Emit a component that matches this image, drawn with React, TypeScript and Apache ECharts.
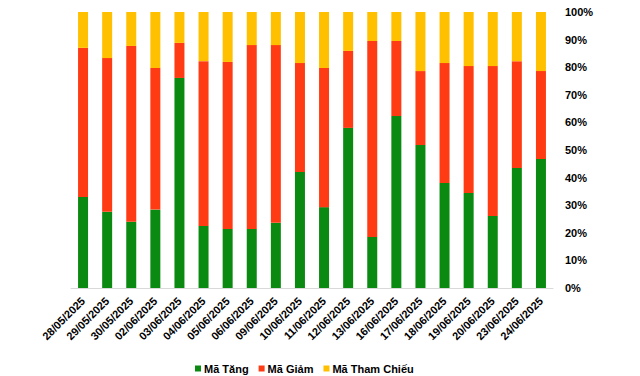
import React, { useEffect, useRef } from "react";
import * as echarts from "echarts";

const categories = [
  "28/05/2025", "29/05/2025", "30/05/2025", "02/06/2025", "03/06/2025",
  "04/06/2025", "05/06/2025", "06/06/2025", "09/06/2025", "10/06/2025",
  "11/06/2025", "12/06/2025", "13/06/2025", "16/06/2025", "17/06/2025",
  "18/06/2025", "19/06/2025", "20/06/2025", "23/06/2025", "24/06/2025",
];
const maTang = [33.0, 27.6, 24.0, 28.4, 76.1, 22.5, 21.4, 21.4, 23.6, 42.0, 29.3, 58.0, 18.5, 62.3, 51.8, 38.0, 34.4, 26.1, 43.5, 46.7];
const maGiam = [54.0, 55.7, 63.7, 51.3, 12.7, 59.7, 60.5, 66.6, 64.4, 39.5, 50.4, 27.9, 71.0, 27.2, 26.8, 43.5, 46.0, 54.3, 38.7, 31.9];
const maThamChieu = [13.0, 16.7, 12.3, 20.3, 11.2, 17.8, 18.1, 12.0, 12.0, 18.5, 20.3, 14.1, 10.5, 10.5, 21.4, 18.5, 19.6, 19.6, 17.8, 21.4];

const font = "Liberation Sans, Arial, sans-serif";

export default function App() {
  const ref = useRef<HTMLDivElement>(null);
  useEffect(() => {
    if (!ref.current) return;
    const chart = echarts.init(ref.current, null, { renderer: "svg" });
    const mk = (name: string, data: number[], color: string) => ({
      name,
      type: "bar",
      stack: "total",
      barWidth: 10,
      data,
      itemStyle: { color },
    });
    chart.setOption({
      animation: false,
      textStyle: { fontFamily: font },
      grid: { left: 71, right: 87, top: 12, bottom: 88, containLabel: false },
      legend: {
        left: 190,
        top: 358,
        itemWidth: 6,
        itemHeight: 6,
        itemGap: 10,
        icon: "rect",
        textStyle: { fontFamily: font, fontSize: 11, fontWeight: "bold", color: "#000", padding: [0, 0, 0, -2] },
        data: ["Mã Tăng", "Mã Giảm", "Mã Tham Chiếu"],
      },
      xAxis: {
        type: "category",
        data: categories,
        axisLine: { lineStyle: { color: "#d9d9d9", width: 1 } },
        axisTick: { show: false },
        axisLabel: {
          rotate: 45,
          margin: 11,
          interval: 0,
          fontFamily: font,
          fontSize: 11,
          fontWeight: "bold",
          color: "#000",
        },
      },
      yAxis: {
        type: "value",
        position: "right",
        min: 0,
        max: 100,
        interval: 10,
        splitLine: { show: false },
        axisLine: { show: false },
        axisTick: { show: false },
        axisLabel: {
          margin: 12,
          formatter: "{value}%",
          fontFamily: font,
          fontSize: 11,
          fontWeight: "bold",
          color: "#000",
        },
      },
      series: [
        mk("Mã Tăng", maTang, "#0B8A12"),
        mk("Mã Giảm", maGiam, "#FF3B14"),
        mk("Mã Tham Chiếu", maThamChieu, "#FFC000"),
      ],
    });
    return () => chart.dispose();
  }, []);
  return <div ref={ref} style={{ width: 640, height: 376, position: "absolute", left: 0, top: 0 }} />;
}
